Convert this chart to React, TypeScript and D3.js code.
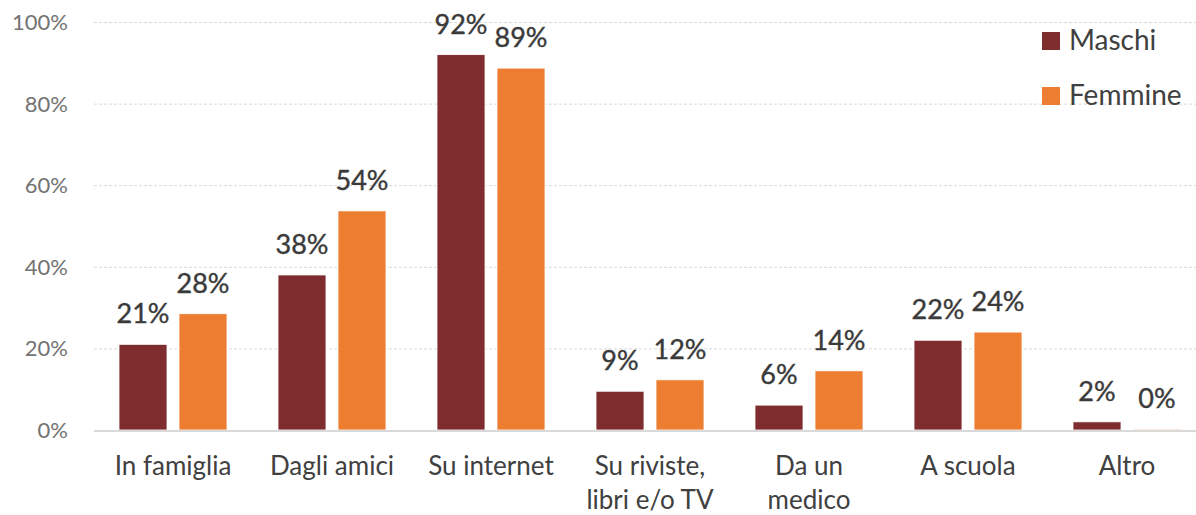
import React, { useRef, useEffect } from 'react';
import * as d3 from 'd3';

// Chart data
const categories = ['In famiglia', 'Dagli amici', 'Su internet', 'Su riviste,\nlibri e/o TV', 'Da un\nmedico', 'A scuola', 'Altro'];
const series = ['Maschi', 'Femmine'];
const maschi = [0.21, 0.38, 0.92, 0.095, 0.061, 0.22, 0.02];
const femmine = [0.285, 0.537, 0.887, 0.123, 0.145, 0.24, 0.003];
const labelsMaschi = ['21%', '38%', '92%', '9%', '6%', '22%', '2%'];
const labelsFemmine = ['28%', '54%', '89%', '12%', '14%', '24%', '0%'];
const yTicks = [0, 0.2, 0.4, 0.6, 0.8, 1];

const colors = { Maschi: '#7f2c2f', Femmine: '#ed7d31' };
const FONT = 'Lato, "Open Sans", sans-serif';

const App = () => {
  const svgRef = useRef(null);

  useEffect(() => {
    const width = 1196;
    const height = 515;

    const svg = d3.select(svgRef.current);
    svg.selectAll('*').remove();
    svg.attr('width', width).attr('height', height).style('background', '#ffffff');

    const xScale = d3.scaleBand().domain(categories).range([93.5, 1206.5]).padding(0);
    const inner = d3.scaleBand().domain(series).range([-54, 54]).paddingInner(0.2).paddingOuter(0);
    const yScale = d3.scaleLinear().domain([0, 1]).range([430, 22]);

    // gridlines
    svg.append('g')
      .selectAll('line')
      .data(yTicks.filter(t => t > 0))
      .join('line')
      .attr('x1', 94)
      .attr('x2', width)
      .attr('y1', d => yScale(d) + 0.5)
      .attr('y2', d => yScale(d) + 0.5)
      .attr('stroke', '#d9d9d9')
      .attr('stroke-width', 1)
      .attr('stroke-dasharray', '3,2');

    // y tick labels
    svg.append('g')
      .selectAll('text')
      .data(yTicks)
      .join('text')
      .attr('x', 68)
      .attr('y', d => yScale(d) + 8)
      .attr('text-anchor', 'end')
      .attr('font-family', FONT)
      .attr('font-size', 22)
      .attr('fill', '#737373')
      .text(d => `${Math.round(d * 100)}%`);

    const rows = categories.map((c, i) => ({
      cat: c,
      values: [
        { key: 'Maschi', v: maschi[i], label: labelsMaschi[i] },
        { key: 'Femmine', v: femmine[i], label: labelsFemmine[i] },
      ],
    }));

    const groups = svg.append('g')
      .selectAll('g')
      .data(rows)
      .join('g')
      .attr('transform', d => `translate(${xScale(d.cat) + xScale.bandwidth() / 2},0)`);

    groups.selectAll('rect')
      .data(d => d.values)
      .join('rect')
      .attr('x', d => inner(d.key))
      .attr('width', inner.bandwidth())
      .attr('y', d => yScale(d.v))
      .attr('height', d => yScale(0) - yScale(d.v))
      .attr('fill', d => colors[d.key])
      .attr('fill-opacity', d => (d.v < 0.01 ? 0.4 : 1))
      .attr('stroke', '#ffffff')
      .attr('stroke-width', 0.8);

    // data labels
    groups.selectAll('text.val')
      .data(d => d.values)
      .join('text')
      .attr('class', 'val')
      .attr('x', d => inner(d.key) + inner.bandwidth() / 2)
      .attr('y', d => yScale(d.v) - 21)
      .attr('text-anchor', 'middle')
      .attr('font-family', FONT)
      .attr('font-size', 27)
      .attr('fill', '#3a3a3a')
      .attr('stroke', '#3a3a3a')
      .attr('stroke-width', 0.4)
      .text(d => d.label);

    // baseline axis
    svg.append('line')
      .attr('x1', 94)
      .attr('x2', width)
      .attr('y1', yScale(0) + 1)
      .attr('y2', yScale(0) + 1)
      .attr('stroke', '#d9d9d9')
      .attr('stroke-width', 2);

    // category labels
    const catText = svg.append('g')
      .selectAll('text')
      .data(categories)
      .join('text')
      .attr('x', d => xScale(d) + xScale.bandwidth() / 2)
      .attr('y', 475)
      .attr('text-anchor', 'middle')
      .attr('font-family', FONT)
      .attr('font-size', 26)
      .attr('fill', '#404040');

    catText.selectAll('tspan')
      .data(d => d.split('\n'))
      .join('tspan')
      .attr('x', function () { return d3.select(this.parentNode).attr('x'); })
      .attr('dy', (d, i) => (i === 0 ? 0 : 34))
      .text(d => d);

    // legend
    const legend = svg.append('g')
      .selectAll('g')
      .data(series)
      .join('g')
      .attr('transform', (d, i) => `translate(1042,${32 + i * 55})`);

    legend.append('rect')
      .attr('width', 18)
      .attr('height', 18)
      .attr('fill', d => colors[d]);

    legend.append('text')
      .attr('x', 27)
      .attr('y', 18)
      .attr('font-family', FONT)
      .attr('font-size', 28)
      .attr('fill', '#404040')
      .text(d => d);
  }, []);

  return (
    <div style={{ position: 'absolute', left: 0, top: 0 }}>
      <svg ref={svgRef} style={{ display: 'block' }}></svg>
    </div>
  );
};

export default App;
